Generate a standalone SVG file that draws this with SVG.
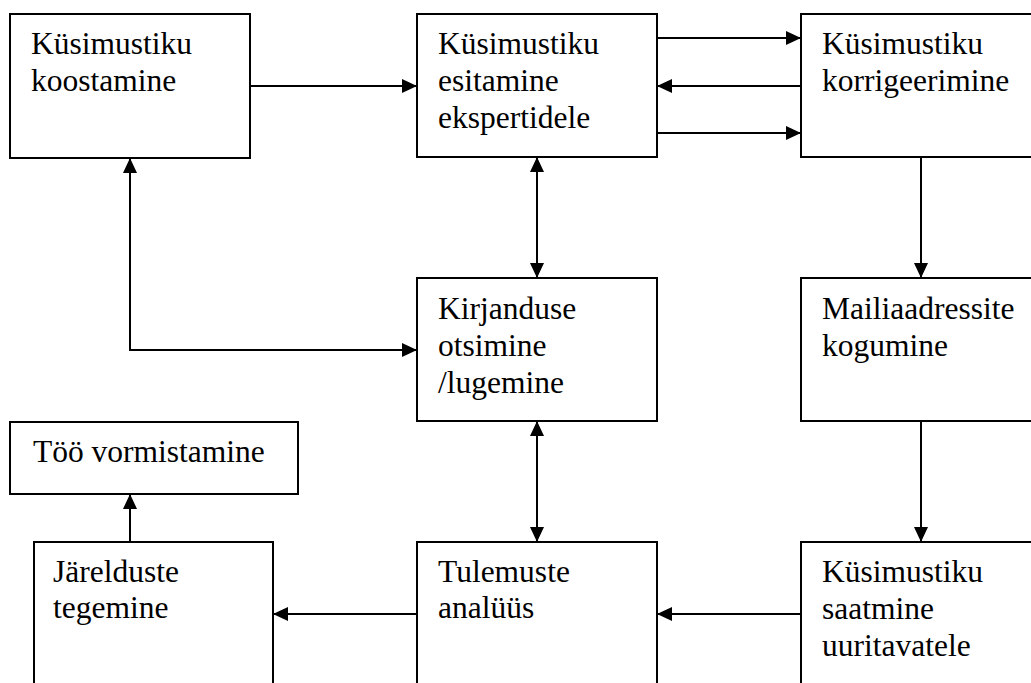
<svg xmlns="http://www.w3.org/2000/svg" width="1031" height="683" viewBox="0 0 1031 683">
<style>
.box{fill:#fff;stroke:#000;stroke-width:2}
.t{font-family:"Liberation Serif","Times New Roman",serif;font-size:31.5px;fill:#000}
.c{fill:none;stroke:#000;stroke-width:2}
.a{marker-end:url(#ah)}
.b{marker-start:url(#ah);marker-end:url(#ah)}
</style>
<defs>
<marker id="ah" markerUnits="userSpaceOnUse" markerWidth="16" markerHeight="16" refX="15" refY="7" orient="auto-start-reverse">
<path d="M0,0 L15,7 L0,14 Z" fill="#000"/>
</marker>
</defs>
<rect width="1031" height="683" fill="#fff"/>
<g id="connectors">
<path class="c a" d="M250,86 H417"/>
<path class="c a" d="M657,38 H801"/>
<path class="c a" d="M801,86 H657"/>
<path class="c a" d="M657,133 H801"/>
<path class="c a" d="M921,157 V278"/>
<path class="c b" d="M537,157 V278"/>
<path class="c b" d="M130,158 V350 H417"/>
<path class="c b" d="M537,421 V542"/>
<path class="c a" d="M921,421 V542"/>
<path class="c a" d="M801,614 H657"/>
<path class="c a" d="M417,614 H273"/>
<path class="c a" d="M130,542 V494"/>
</g>
<g id="n-koostamine">
<rect class="box" x="10" y="14" width="240" height="144"/>
<text class="t" x="31" y="54">Küsimustiku</text>
<text class="t" x="31" y="91">koostamine</text>
</g>
<g id="n-esitamine">
<rect class="box" x="417" y="14" width="240" height="143"/>
<text class="t" x="438" y="54">Küsimustiku</text>
<text class="t" x="438" y="91">esitamine</text>
<text class="t" x="438" y="128">ekspertidele</text>
</g>
<g id="n-korrigeerimine">
<rect class="box" x="801" y="14" width="260" height="143"/>
<text class="t" x="822" y="54">Küsimustiku</text>
<text class="t" x="822" y="91">korrigeerimine</text>
</g>
<g id="n-kirjandus">
<rect class="box" x="417" y="278" width="240" height="143"/>
<text class="t" x="438" y="319">Kirjanduse</text>
<text class="t" x="438" y="356">otsimine</text>
<text class="t" x="438" y="393">/lugemine</text>
</g>
<g id="n-mailiaadressid">
<rect class="box" x="801" y="278" width="260" height="143"/>
<text class="t" x="822" y="319">Mailiaadressite</text>
<text class="t" x="822" y="356">kogumine</text>
</g>
<g id="n-vormistamine">
<rect class="box" x="10" y="422" width="288" height="72"/>
<text class="t" x="33" y="462">Töö vormistamine</text>
</g>
<g id="n-jareldused">
<rect class="box" x="34" y="542" width="239" height="160"/>
<text class="t" x="53" y="582">Järelduste</text>
<text class="t" x="53" y="618">tegemine</text>
</g>
<g id="n-analyys">
<rect class="box" x="417" y="542" width="240" height="160"/>
<text class="t" x="438" y="582">Tulemuste</text>
<text class="t" x="438" y="618">analüüs</text>
</g>
<g id="n-saatmine">
<rect class="box" x="801" y="542" width="260" height="160"/>
<text class="t" x="822" y="582">Küsimustiku</text>
<text class="t" x="822" y="619">saatmine</text>
<text class="t" x="822" y="656">uuritavatele</text>
</g>
</svg>
